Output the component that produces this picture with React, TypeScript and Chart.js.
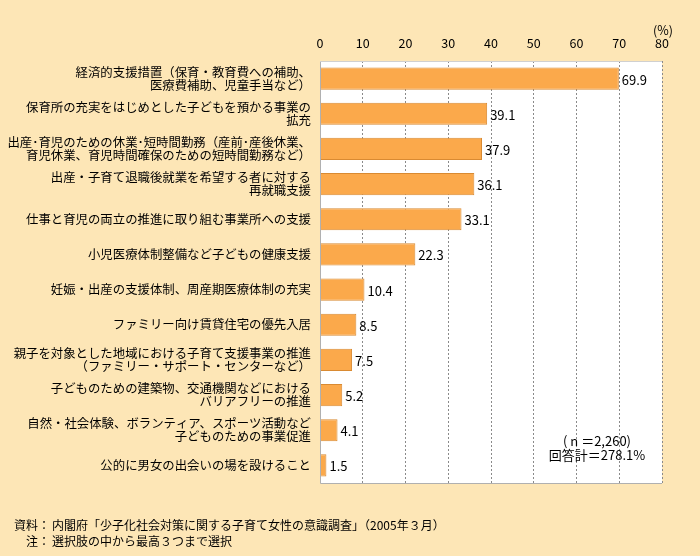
import React, { useEffect, useRef } from "react";
import { Chart, registerables } from "chart.js";

Chart.register(...registerables);

const categories: string[][] = [
  ["経済的支援措置（保育・教育費への補助、", "医療費補助、児童手当など）"],
  ["保育所の充実をはじめとした子どもを預かる事業の", "拡充"],
  ["出産･育児のための休業･短時間勤務（産前･産後休業、", "育児休業、育児時間確保のための短時間勤務など）"],
  ["出産・子育て退職後就業を希望する者に対する", "再就職支援"],
  ["仕事と育児の両立の推進に取り組む事業所への支援"],
  ["小児医療体制整備など子どもの健康支援"],
  ["妊娠・出産の支援体制、周産期医療体制の充実"],
  ["ファミリー向け賃貸住宅の優先入居"],
  ["親子を対象とした地域における子育て支援事業の推進", "（ファミリー・サポート・センターなど）"],
  ["子どものための建築物、交通機関などにおける", "バリアフリーの推進"],
  ["自然・社会体験、ボランティア、スポーツ活動など", "子どものための事業促進"],
  ["公的に男女の出会いの場を設けること"],
];
const values: number[] = [69.9, 39.1, 37.9, 36.1, 33.1, 22.3, 10.4, 8.5, 7.5, 5.2, 4.1, 1.5];
const xTicks: number[] = [0, 10, 20, 30, 40, 50, 60, 70, 80];
const unitLabel = "(%)";
const noteLines: string[] = ["( n ＝2,260)", "回答計＝278.1%"];
const sourceLines: [string, string][] = [
  ["資料：", "内閣府「少子化社会対策に関する子育て女性の意識調査」（2005年３月）"],
  ["注：", "選択肢の中から最高３つまで選択"],
];

const FONT = "'Noto Sans CJK JP', 'Noto Sans', sans-serif";
const BG = "#FDE6B6";

export default function App() {
  const ref = useRef<HTMLCanvasElement | null>(null);
  useEffect(() => {
    if (!ref.current) return;
    const decor = {
      id: "decor",
      beforeDraw(chart: any) {
        const { ctx, chartArea } = chart;
        ctx.save();
        ctx.fillStyle = BG;
        ctx.fillRect(0, 0, chart.width, chart.height);
        ctx.fillStyle = "#ffffff";
        ctx.fillRect(chartArea.left, chartArea.top, chartArea.right - chartArea.left, chartArea.bottom - chartArea.top);
        ctx.restore();
      },
      afterDraw(chart: any) {
        const { ctx, chartArea } = chart;
        const xs = chart.scales.x;
        ctx.save();
        // borders
        ctx.strokeStyle = "#b0b0b0";
        ctx.lineWidth = 1;
        ctx.beginPath();
        ctx.moveTo(chartArea.left + 0.5, chartArea.top);
        ctx.lineTo(chartArea.left + 0.5, chartArea.bottom + 0.5);
        ctx.lineTo(chartArea.right, chartArea.bottom + 0.5);
        ctx.stroke();
        ctx.strokeStyle = "#d0d0d0";
        ctx.beginPath();
        ctx.moveTo(chartArea.left, chartArea.top + 0.5);
        ctx.lineTo(chartArea.right, chartArea.top + 0.5);
        ctx.stroke();
        // value labels
        const meta = chart.getDatasetMeta(0);
        ctx.fillStyle = "#000";
        ctx.font = `13px ${FONT}`;
        ctx.textAlign = "left";
        ctx.textBaseline = "middle";
        meta.data.forEach((bar: any, i: number) => {
          ctx.fillText(values[i].toFixed(1), bar.x + 3, bar.y + 1);
        });
        // unit
        ctx.font = `12.5px ${FONT}`;
        ctx.textAlign = "center";
        ctx.fillText(unitLabel, xs.getPixelForValue(80) + 1, 30);
        // note
        ctx.font = `13px ${FONT}`;
        ctx.fillText(noteLines[0], 597, 441);
        ctx.fillText(noteLines[1], 597, 455);
        // source
        ctx.font = `12px ${FONT}`;
        ctx.textAlign = "right";
        ctx.fillText(sourceLines[0][0], 50, 525);
        ctx.fillText(sourceLines[1][0], 50, 541);
        ctx.textAlign = "left";
        ctx.fillText(sourceLines[0][1], 52, 525);
        ctx.fillText(sourceLines[1][1], 52, 541);
        ctx.restore();
      },
    };
    const chart = new Chart(ref.current, {
      type: "bar",
      data: {
        labels: categories,
        datasets: [
          {
            data: values,
            backgroundColor: "#FBA94B",
            borderColor: "#D98A32",
            borderWidth: 1,
            barPercentage: 0.63,
            categoryPercentage: 1,
          },
        ],
      },
      options: {
        indexAxis: "y",
        animation: false,
        responsive: false,
        layout: { padding: { left: 0, right: 38, top: 0, bottom: 73 } },
        plugins: { legend: { display: false }, tooltip: { enabled: false } },
        scales: {
          x: {
            position: "top",
            min: 0,
            max: 80,
            afterBuildTicks: (s: any) => {
              s.ticks = xTicks.map((v) => ({ value: v }));
            },
            afterFit: (s: any) => {
              s.height = 61;
            },
            ticks: { color: "#000", font: { family: FONT, size: 12.5 }, padding: 10, maxRotation: 0 },
            grid: { color: "#8a8a8a", drawTicks: false, lineWidth: 1 },
            border: { display: false, dash: [2, 2] },
          },
          y: {
            afterFit: (s: any) => {
              s.width = 320;
            },
            ticks: { color: "#000", font: { family: FONT, size: 12.4, lineHeight: 1.05 }, padding: 9, autoSkip: false },
            grid: { display: false, drawTicks: false },
            border: { display: false },
          },
        },
      },
      plugins: [decor],
    });
    return () => chart.destroy();
  }, []);
  return (
    <div style={{ position: "absolute", left: 0, top: 0, width: 700, height: 556 }}>
      <canvas ref={ref} width={700} height={556} />
    </div>
  );
}
